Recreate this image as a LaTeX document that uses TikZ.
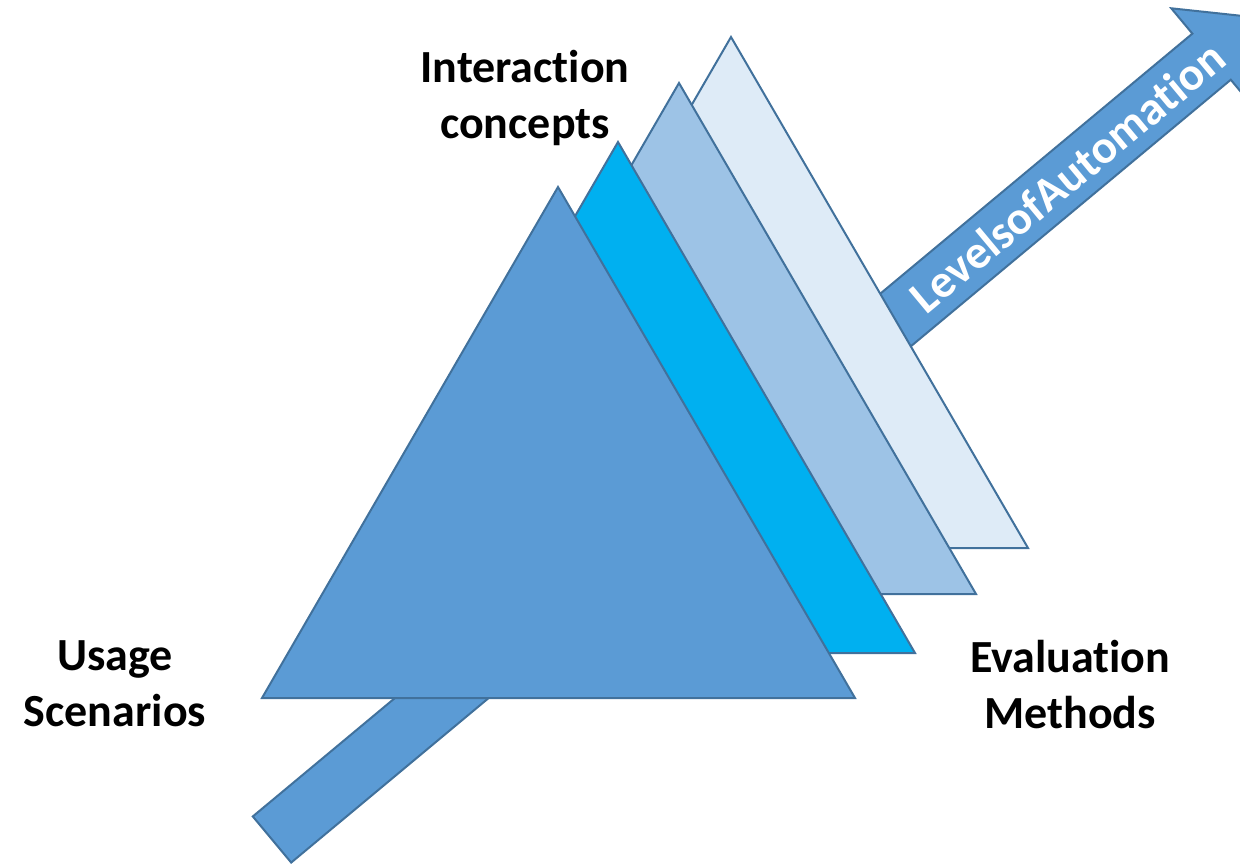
\documentclass[tikz,border=0pt]{standalone}
\usepackage{fontspec}
\setmainfont{Carlito}[Ligatures=NoCommon]
\usepackage{tikz}
\usetikzlibrary{positioning}

\definecolor{edgeblue}{HTML}{41719C}
\definecolor{laymain}{HTML}{5B9BD5}
\definecolor{laycyan}{HTML}{00B0F0}
\definecolor{laymid}{HTML}{9DC3E6}
\definecolor{laylight}{HTML}{DEEBF7}

\begin{document}
\begin{tikzpicture}[x=1pt, y=1pt, line join=miter,
    layer/.style={draw=edgeblue, line width=2pt},
    label/.style={align=center, anchor=base, font=\fontsize{46}{56}\selectfont\bfseries}]

\useasboundingbox (0,-863) rectangle (1240,0);
\clip (0,-863) rectangle (1240,0);

% Arrow of automation levels
\begin{scope}[shift={(272,-839.5)}, rotate=39.8]
    \draw[layer, fill=laymain] (0,-30) -- (1223,-30) -- (1223,-63) -- (1284,0)
        -- (1223,63) -- (1223,30) -- (0,30) -- cycle;
    \node[text=white, rotate=39.8, font=\fontsize{47}{56}\selectfont\bfseries] (loa) at (1035,0) {LevelsofAutomation};
\end{scope}

% Layers
\foreach \dx/\dy/\col in {173/150/laylight, 121/104/laymid, 60/45/laycyan, 0/0/laymain} {
    \draw[layer, fill=\col] (558+\dx,-187+\dy) -- (262+\dx,-698+\dy) -- (855+\dx,-698+\dy) -- cycle;
}

% Labels
\node[label] (usage) at (115,-726) {Usage\\Scenarios};
\node[label] (inter) at (525,-138) {Interaction\\concepts};
\node[label] (eval) at (1070,-728) {Evaluation\\Methods};

\end{tikzpicture}
\end{document}
